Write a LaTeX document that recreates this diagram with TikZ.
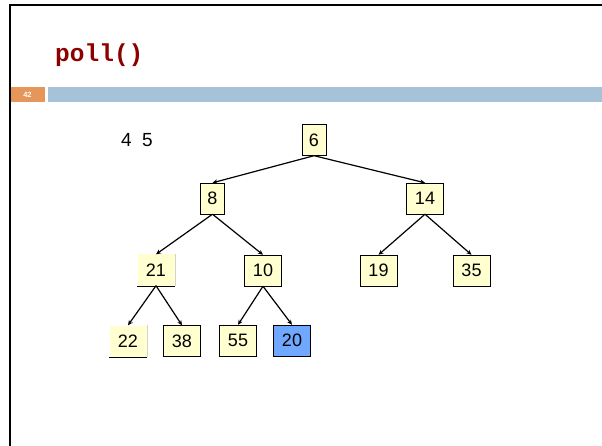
\documentclass[tikz,border=0pt]{standalone}
\usepackage{fontspec}
\setmainfont{Liberation Sans}
\newfontfamily\codefont{Liberation Mono}
\usetikzlibrary{arrows.meta,positioning}
\definecolor{heapfill}{RGB}{255,255,208}
\definecolor{heapblue}{RGB}{112,168,255}
\definecolor{titlered}{RGB}{140,0,0}
\definecolor{numorange}{RGB}{230,150,90}
\definecolor{barblue}{RGB}{165,194,216}

\begin{document}
\begin{tikzpicture}[x=1pt, y=-1pt,
    key/.style={rectangle, draw=black, thin, fill=heapfill, inner xsep=0pt,
        minimum width=37pt, minimum height=31pt, font=\fontsize{18}{18}\selectfont},
    narrow/.style={key, minimum width=24pt},
    faded/.style={key, draw=none},
    moved/.style={key, fill=heapblue},
    arc/.style={-{Stealth[length=5pt,width=4.5pt]}, line width=1.2pt}
]
\useasboundingbox (0,0) rectangle (602,446);

% CORNICE
\draw[line width=2pt] (9.5,446) -- (9.5,5) -- (602,5);
\fill[numorange] (11,87) rectangle (45,102);
\fill[barblue] (48,87) rectangle (602,102);
\node[text=white, font=\bfseries\fontsize{7.5}{7.5}\selectfont] (num) at (27.5,94.5) {42};

% TITOLO
\node[anchor=base west, inner sep=0pt, text=titlered,
    font=\codefont\bfseries\fontsize{24.5}{24.5}\selectfont] (title) at (55,62) {poll()};

% VALORI
\node[anchor=base west, inner sep=0pt, font=\fontsize{19}{19}\selectfont] (vals) at (121,147) {4\hspace{0.55em}5};

% HEAP
\node[narrow] (n6) at (314,140) {6};
\node[narrow] (n8) at (212.5,198.5) {8};
\node[key] (n14) at (425,198.5) {14};
\node[faded] (n21) at (156,270) {21};
\node[key] (n10) at (263,270.5) {10};
\node[key] (n19) at (378.5,270.5) {19};
\node[key] (n35) at (471.5,270.5) {35};
\node[faded] (n22) at (128,341) {22};
\node[key] (n38) at (182,341) {38};
\node[key] (n55) at (238,340.5) {55};
\node[moved] (n20) at (292,340.5) {20};

% bordi sbiaditi
\foreach \n in {n21,n22} {
    \draw[thin] (\n.south west) -- (\n.south east);
    \draw[thin, gray!35] (\n.south east) -- (\n.north east);
}

% ARCHI
\foreach \a/\b in {n6/n8, n6/n14, n8/n21, n8/n10, n14/n19, n14/n35,
    n21/n22, n21/n38, n10/n55, n10/n20} {
    \draw[arc] (\a.south) -- (\b.north);
}

\end{tikzpicture}
\end{document}
